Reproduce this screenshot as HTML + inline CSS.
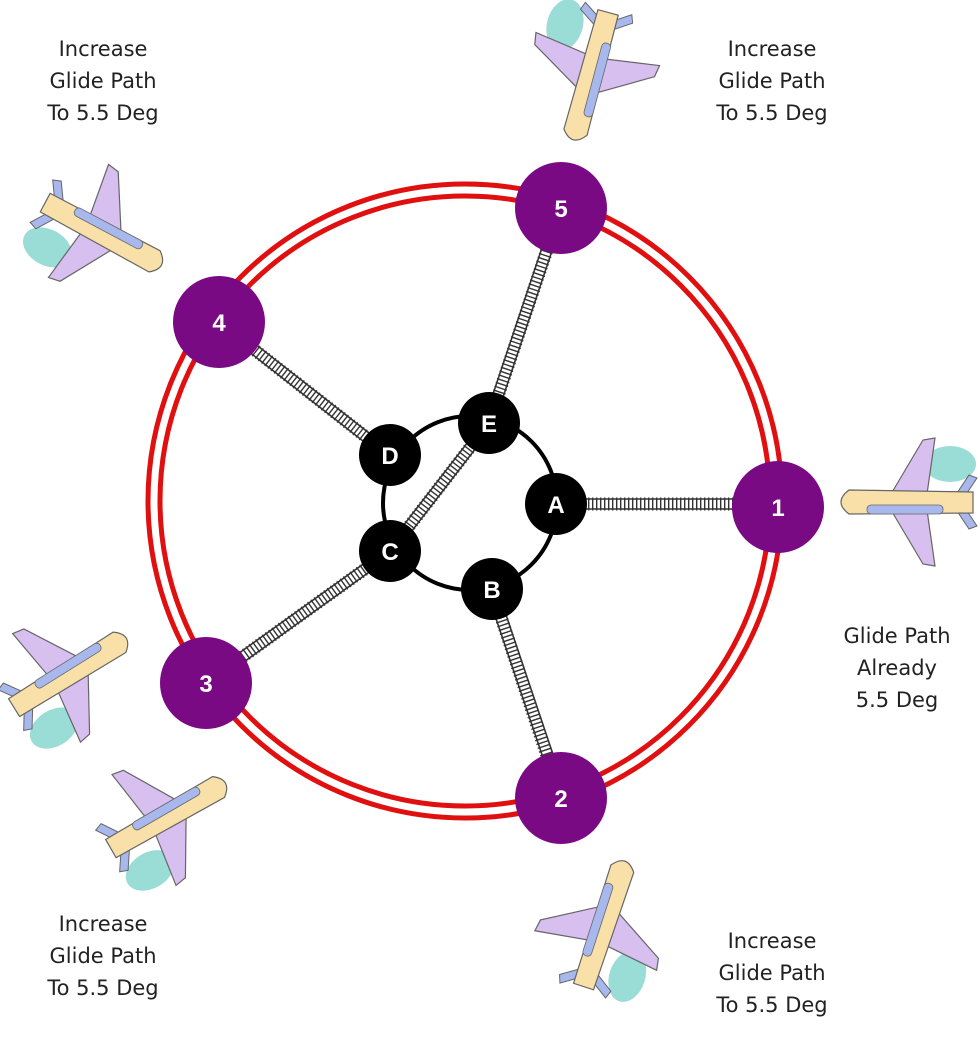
<!DOCTYPE html>
<html><head><meta charset="utf-8"><style>
html,body{margin:0;padding:0;background:#fff;}
svg{display:block;}
text{font-family:"DejaVu Sans","Liberation Sans",sans-serif;font-size:21px;fill:#222;text-anchor:middle;}
.n{font-family:"Liberation Sans",sans-serif;font-weight:bold;fill:#fff;font-size:24px;}
</style></head><body>
<svg width="980" height="1047" viewBox="0 0 980 1047">
<defs>
<g id="plane">
  <ellipse cx="-45" cy="38" rx="26" ry="18" fill="#9adcd6"/>
  <path d="M14,-8 L-18,-62 L-30,-64 L-22,-8 Z" fill="#d7bff0" stroke="#666" stroke-width="1.2"/>
  <path d="M14,8 L-18,62 L-30,64 L-22,8 Z" fill="#d7bff0" stroke="#666" stroke-width="1.2"/>
  <path d="M-60,-6 L-72,-24 L-64,-27 L-50,-6 Z M-60,6 L-72,24 L-64,27 L-50,6 Z" fill="#a8b8ec" stroke="#666" stroke-width="1"/>
  <path d="M-68,-11 L56,-12 Q72,0 56,12 L-68,10 Z" fill="#f8e0a8" stroke="#666" stroke-width="1.2"/>
  <rect x="-38" y="-12" width="76" height="9" rx="4" fill="#a8b8ec" stroke="#666" stroke-width="0.8"/>
</g>
</defs>
<use href="#plane" transform="translate(905,502) rotate(180)"/>
<use href="#plane" transform="translate(590,78) rotate(105)"/>
<use href="#plane" transform="translate(105,235) rotate(28)"/>
<use href="#plane" transform="translate(72,672) rotate(-32)"/>
<use href="#plane" transform="translate(170,815) rotate(-30)"/>
<use href="#plane" transform="translate(605,922) rotate(-72)"/>
<circle cx="465" cy="501" r="317" fill="none" stroke="#e01010" stroke-width="5"/>
<circle cx="465" cy="501" r="305" fill="none" stroke="#e01010" stroke-width="5"/>
<g stroke="#333" fill="none">
  <g stroke-width="1.6">
    <path d="M556,499 L778,499 M556,509 L778,509"/>
    <path d="M487,592 L556,796 M497,588 L566,793"/>
    <path d="M387,547 L203,679 M393,555 L209,687"/>
    <path d="M386,459 L216,326 M392,451 L222,318"/>
    <path d="M484,421 L556,206 M494,424 L566,209"/>
    <path d="M386,548 L485,420 M394,554 L493,426"/>
  </g>
  <g stroke-width="13" stroke-dasharray="1.4,2.6">
    <path d="M556,504 L778,504"/>
    <path d="M492,590 L561,798"/>
    <path d="M390,551 L206,683"/>
    <path d="M389,455 L219,322"/>
    <path d="M489,423 L561,208"/>
    <path d="M390,551 L489,423"/>
  </g>
</g>
<circle cx="470" cy="503" r="87" fill="none" stroke="#000" stroke-width="4"/>
<g fill="#000">
<circle cx="556" cy="504" r="31"/><circle cx="492" cy="589" r="31"/><circle cx="390" cy="551" r="31"/><circle cx="390" cy="455" r="31"/><circle cx="489" cy="423" r="31"/>
</g>
<text class="n" x="556" y="513">A</text><text class="n" x="492" y="598">B</text><text class="n" x="390" y="560">C</text><text class="n" x="390" y="464">D</text><text class="n" x="489" y="432">E</text>
<g fill="#7a0a84">
<circle cx="778" cy="507" r="46"/><circle cx="561" cy="798" r="46"/><circle cx="206" cy="683" r="46"/><circle cx="219" cy="322" r="46"/><circle cx="561" cy="208" r="46"/>
</g>
<text class="n" x="778" y="516">1</text><text class="n" x="561" y="807">2</text><text class="n" x="206" y="692">3</text><text class="n" x="219" y="331">4</text><text class="n" x="561" y="217">5</text>
<text x="103" y="56">Increase</text><text x="103" y="88">Glide Path</text><text x="103" y="120">To 5.5 Deg</text>
<text x="772" y="56">Increase</text><text x="772" y="88">Glide Path</text><text x="772" y="120">To 5.5 Deg</text>
<text x="897" y="643">Glide Path</text><text x="897" y="675">Already</text><text x="897" y="707">5.5 Deg</text>
<text x="103" y="931">Increase</text><text x="103" y="963">Glide Path</text><text x="103" y="995">To 5.5 Deg</text>
<text x="772" y="948">Increase</text><text x="772" y="980">Glide Path</text><text x="772" y="1012">To 5.5 Deg</text>
</svg>
</body></html>
